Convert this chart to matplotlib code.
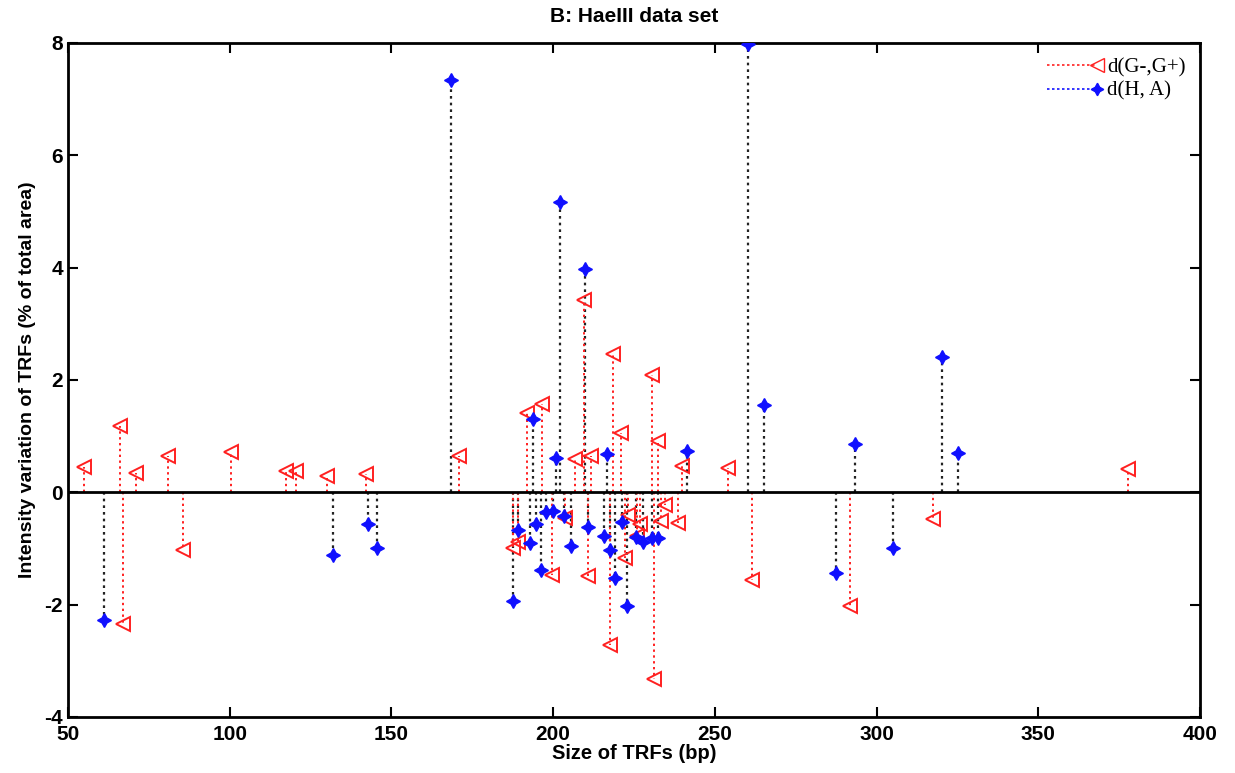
import matplotlib.pyplot as plt
from matplotlib.lines import Line2D

# d(G-,G+) : red triangles
g_size = [55, 66, 67, 71, 81, 85.5, 100.5, 117.5, 120.5, 130, 142, 171,
          187.6, 189.2, 191.8, 196.5, 199.5, 203.7, 206.8, 209.7, 210.7, 211.8,
          217.6, 218.4, 220.9, 222.2, 223.2, 226, 226.9, 230.7, 231.2, 232.5,
          233.5, 234.6, 238.7, 239.8, 254, 261.5, 291.8, 317.5, 377.8]
g_diff = [0.45, 1.18, -2.35, 0.35, 0.65, -1.02, 0.72, 0.37, 0.37, 0.29, 0.32, 0.65,
          -0.99, -0.88, 1.41, 1.57, -1.47, -0.46, 0.59, 3.42, -1.49, 0.65,
          -2.72, 2.47, 1.05, -1.17, -0.40, -0.78, -0.57, 2.09, -3.33, 0.91,
          -0.51, -0.23, -0.55, 0.46, 0.43, -1.57, -2.02, -0.48, 0.41]

# d(H, A) : blue stars
h_size = [61.2, 131.9, 142.8, 145.5, 168.4, 187.6, 189.2, 192.8, 193.8, 194.7,
          196.4, 197.8, 200, 200.8, 202.1, 203.4, 205.4, 209.9, 210.7, 215.7,
          216.7, 217.6, 219.1, 221.4, 222.7, 225.5, 227.9, 230.5, 232.3, 241.4,
          260.3, 265.2, 287.5, 293.3, 305.1, 320.2, 325.2]
h_diff = [-2.28, -1.12, -0.56, -0.99, 7.34, -1.93, -0.67, -0.90, 1.30, -0.57,
          -1.38, -0.35, -0.33, 0.61, 5.16, -0.43, -0.95, 3.98, -0.61, -0.77,
          0.68, -1.02, -1.53, -0.53, -2.02, -0.79, -0.89, -0.82, -0.82, 0.73,
          7.98, 1.55, -1.43, 0.86, -1.00, 2.41, 0.70]

x_ticks = [50, 100, 150, 200, 250, 300, 350, 400]
y_ticks = [-4, -2, 0, 2, 4, 6, 8]

plt.rcParams['font.family'] = ['Liberation Sans', 'DejaVu Sans']
plt.rcParams['font.weight'] = 'bold'
plt.rcParams['axes.unicode_minus'] = False

fig = plt.figure(figsize=(12.35, 7.73), dpi=100)
ax = fig.add_axes([0.055, 0.0725, 0.9167, 0.872])

star = (4, 1, 0)
red = '#ff2020'
blue = '#1010ff'

ax.vlines(h_size, 0, h_diff, colors='#222222', linestyles=(0, (1.2, 1.8)), linewidth=1.6, zorder=2)
ax.vlines(g_size, 0, g_diff, colors=red, linestyles=(0, (1.2, 1.8)), linewidth=1.4, zorder=2)
ax.axhline(0, color='k', linewidth=2, zorder=3)
ax.plot(g_size, g_diff, linestyle='none', marker='<', markersize=10, markerfacecolor='none',
        markeredgecolor=red, markeredgewidth=1.4, zorder=4)
ax.plot(h_size, h_diff, linestyle='none', marker=star, markersize=10, color=blue, zorder=5)

ax.set_xlim(50, 400)
ax.set_ylim(-4, 8)
ax.set_xticks(x_ticks)
ax.set_yticks(y_ticks)
ax.tick_params(direction='in', length=7, width=1.5, top=True, right=True, labelsize=15)
ax.tick_params(axis='x', pad=6)
for lab in ax.get_xticklabels() + ax.get_yticklabels():
    lab.set_fontweight('bold')
for sp in ax.spines.values():
    sp.set_linewidth(2)

ax.set_title('B: HaeIII data set', fontsize=15, fontweight='bold', pad=15)
ax.set_xlabel('Size of TRFs (bp)', fontsize=14.5, fontweight='bold', labelpad=0)
ax.set_ylabel('Intensity variation of TRFs (% of total area)', fontsize=14, fontweight='bold', labelpad=6)

h1 = Line2D([0], [0], color=red, linestyle=(0, (1.5, 1.5)), linewidth=1.2, marker='<',
            markersize=10, markerfacecolor='none', markeredgecolor=red)
h2 = Line2D([0], [0], color=blue, linestyle=(0, (1.5, 1.5)), linewidth=1.2, marker=star,
            markersize=9)
leg = ax.legend([h1, h2], ['d(G-,G+)', 'd(H, A)'], loc='upper right', frameon=False, numpoints=1,
                prop={'family': 'Liberation Serif', 'size': 15, 'weight': 'normal'},
                handlelength=2.4, handletextpad=0.5, labelspacing=0.2, borderaxespad=0.3)
for ln in leg.get_lines():
    ln.set_markevery([2])

fig.savefig('out.png', dpi=100)
